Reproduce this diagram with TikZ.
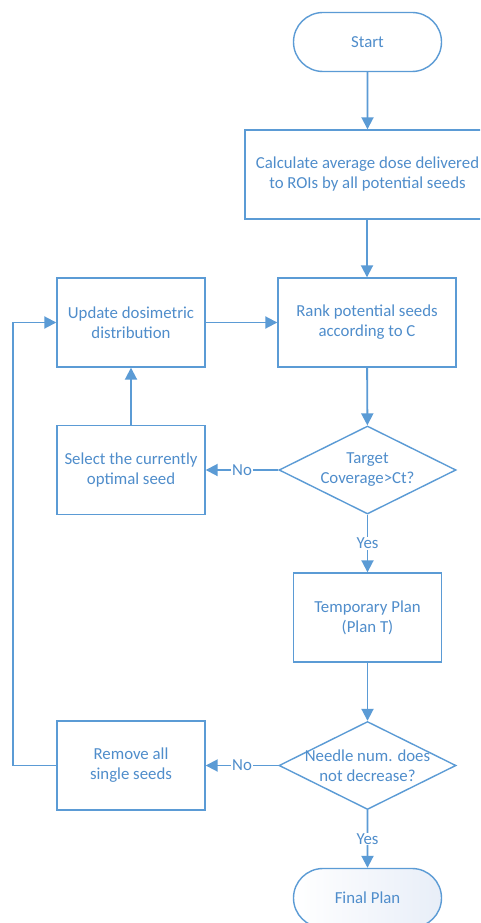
\documentclass[tikz,border=0pt]{standalone}
\usepackage{fontspec}
\setmainfont{Carlito}
\usetikzlibrary{arrows.meta,shapes.geometric,shapes.misc}
\definecolor{linec}{HTML}{5B9BD5}
\definecolor{textc}{HTML}{4F8DCB}
\definecolor{shadec}{HTML}{E8EEF8}
\begin{document}
\begin{tikzpicture}[x=1pt,y=-1pt,
  every node/.style={font=\fontsize{16.8}{20}\selectfont, text=textc},
  procbox/.style={draw=linec, line width=1.4pt, fill=white, minimum width=148pt, minimum height=89pt, align=center, inner sep=0pt},
  termbox/.style={draw=linec, line width=1.4pt, rounded rectangle, minimum width=148pt, minimum height=59pt, align=center, inner sep=0pt},
  decbox/.style={draw=linec, line width=1.4pt, fill=white, diamond, minimum width=177pt, minimum height=88pt, inner sep=0pt},
  dectext/.style={align=center, inner sep=0pt},
  conn/.style={draw=linec, line width=1.9pt, -{Triangle[length=12pt,width=12pt]}},
  lbl/.style={fill=white, inner sep=1pt}
]
\clip (0,0) rectangle (480,923);
\fill[white] (0,0) rectangle (480,923);

\node[termbox, fill=white] (start) at (367.5,42) {Start};
\node[procbox, minimum width=245pt] (calc) at (367.5,174.5) {Calculate average dose delivered\\to ROIs by all potential seeds};
\node[procbox, minimum width=178pt] (rank) at (367,322.5) {Rank potential seeds\\according to C};
\node[procbox] (update) at (131,322.5) {Update dosimetric\\distribution};
\node[procbox] (select) at (131,470) {Select the currently\\optimal seed};
\node[decbox] (d1) at (367.5,470) {};
\node[dectext] (d1t) at (d1.center) {Target\\Coverage>Ct?};
\node[procbox] (temp) at (367.5,617.5) {Temporary Plan\\(Plan T)};
\node[decbox] (d2) at (367.5,765.5) {};
\node[dectext] (d2t) at (d2.center) {Needle num. does\\not decrease?};
\node[procbox] (remove) at (131,765.5) {Remove all\\single seeds};
\node[termbox, left color=white, right color=shadec] (final) at (367.5,898) {Final Plan};

\draw[conn] (start) -- (calc);
\draw[conn] (calc.south -| rank) -- (rank);
\draw[conn] (rank) -- (d1);
\draw[conn] (d1) -- node[lbl] {No} (select);
\draw[conn] (select) -- (update);
\draw[conn] (update) -- (rank);
\draw[conn] (d1) -- node[lbl] {Yes} (temp);
\draw[conn] (temp) -- (d2);
\draw[conn] (d2) -- node[lbl] {No} (remove);
\draw[conn] (d2) -- node[lbl] {Yes} (final);
\coordinate (loopbot) at (13,765.5);
\draw[conn] (remove.west) -- (loopbot) |- (update.west);
\end{tikzpicture}
\end{document}
